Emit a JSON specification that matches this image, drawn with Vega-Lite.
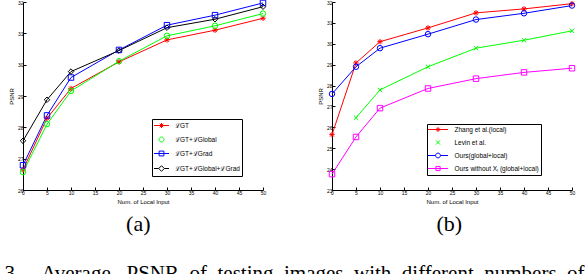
{
  "$schema": "https://vega.github.io/schema/vega-lite/v6.json",
  "padding": {"left": 4, "top": -2, "right": 0, "bottom": 0},
  "background": "white",
  "datasets": {
    "a": [
      {"input": 0, "psnr": 26.65, "series": "ℒGT"},
      {"input": 5, "psnr": 28.29, "series": "ℒGT"},
      {"input": 10, "psnr": 29.24, "series": "ℒGT"},
      {"input": 20, "psnr": 30.09, "series": "ℒGT"},
      {"input": 30, "psnr": 30.79, "series": "ℒGT"},
      {"input": 40, "psnr": 31.10, "series": "ℒGT"},
      {"input": 50, "psnr": 31.48, "series": "ℒGT"},
      {"input": 0, "psnr": 26.57, "series": "ℒGT+ℒGlobal"},
      {"input": 5, "psnr": 28.10, "series": "ℒGT+ℒGlobal"},
      {"input": 10, "psnr": 29.16, "series": "ℒGT+ℒGlobal"},
      {"input": 20, "psnr": 30.11, "series": "ℒGT+ℒGlobal"},
      {"input": 30, "psnr": 30.92, "series": "ℒGT+ℒGlobal"},
      {"input": 40, "psnr": 31.24, "series": "ℒGT+ℒGlobal"},
      {"input": 50, "psnr": 31.63, "series": "ℒGT+ℒGlobal"},
      {"input": 0, "psnr": 26.79, "series": "ℒGT+ℒGrad"},
      {"input": 5, "psnr": 28.38, "series": "ℒGT+ℒGrad"},
      {"input": 10, "psnr": 29.59, "series": "ℒGT+ℒGrad"},
      {"input": 20, "psnr": 30.47, "series": "ℒGT+ℒGrad"},
      {"input": 30, "psnr": 31.26, "series": "ℒGT+ℒGrad"},
      {"input": 40, "psnr": 31.58, "series": "ℒGT+ℒGrad"},
      {"input": 50, "psnr": 31.97, "series": "ℒGT+ℒGrad"},
      {"input": 0, "psnr": 27.57, "series": "ℒGT+ℒGlobal+ℒGrad"},
      {"input": 5, "psnr": 28.88, "series": "ℒGT+ℒGlobal+ℒGrad"},
      {"input": 10, "psnr": 29.78, "series": "ℒGT+ℒGlobal+ℒGrad"},
      {"input": 20, "psnr": 30.45, "series": "ℒGT+ℒGlobal+ℒGrad"},
      {"input": 30, "psnr": 31.18, "series": "ℒGT+ℒGlobal+ℒGrad"},
      {"input": 40, "psnr": 31.45, "series": "ℒGT+ℒGlobal+ℒGrad"},
      {"input": 50, "psnr": 31.85, "series": "ℒGT+ℒGlobal+ℒGrad"}
    ],
    "b": [
      {"input": 0, "psnr": 25.65, "series": "Zhang et al.(local)"},
      {"input": 5, "psnr": 29.08, "series": "Zhang et al.(local)"},
      {"input": 10, "psnr": 30.10, "series": "Zhang et al.(local)"},
      {"input": 20, "psnr": 30.76, "series": "Zhang et al.(local)"},
      {"input": 30, "psnr": 31.48, "series": "Zhang et al.(local)"},
      {"input": 40, "psnr": 31.67, "series": "Zhang et al.(local)"},
      {"input": 50, "psnr": 31.92, "series": "Zhang et al.(local)"},
      {"input": 5, "psnr": 26.46, "series": "Levin et al."},
      {"input": 10, "psnr": 27.79, "series": "Levin et al."},
      {"input": 20, "psnr": 28.90, "series": "Levin et al."},
      {"input": 30, "psnr": 29.79, "series": "Levin et al."},
      {"input": 40, "psnr": 30.17, "series": "Levin et al."},
      {"input": 50, "psnr": 30.62, "series": "Levin et al."},
      {"input": 0, "psnr": 27.60, "series": "Ours(global+local)"},
      {"input": 5, "psnr": 28.90, "series": "Ours(global+local)"},
      {"input": 10, "psnr": 29.79, "series": "Ours(global+local)"},
      {"input": 20, "psnr": 30.46, "series": "Ours(global+local)"},
      {"input": 30, "psnr": 31.16, "series": "Ours(global+local)"},
      {"input": 40, "psnr": 31.46, "series": "Ours(global+local)"},
      {"input": 50, "psnr": 31.83, "series": "Ours(global+local)"},
      {"input": 0, "psnr": 23.76, "series": "Ours without Xₗ (global+local)"},
      {"input": 5, "psnr": 25.54, "series": "Ours without Xₗ (global+local)"},
      {"input": 10, "psnr": 26.92, "series": "Ours without Xₗ (global+local)"},
      {"input": 20, "psnr": 27.86, "series": "Ours without Xₗ (global+local)"},
      {"input": 30, "psnr": 28.33, "series": "Ours without Xₗ (global+local)"},
      {"input": 40, "psnr": 28.63, "series": "Ours without Xₗ (global+local)"},
      {"input": 50, "psnr": 28.83, "series": "Ours without Xₗ (global+local)"}
    ]
  },
  "title": {
    "text": "3.\u00a0\u00a0\u00a0\u00a0Average\u00a0\u00a0\u00a0PSNR\u00a0\u00a0of\u00a0\u00a0testing\u00a0\u00a0images\u00a0\u00a0with\u00a0\u00a0different\u00a0\u00a0numbers\u00a0\u00a0of",
    "orient": "bottom",
    "anchor": "start",
    "frame": "bounds",
    "font": "Liberation Serif",
    "fontSize": 21,
    "fontWeight": "normal",
    "color": "black",
    "offset": 28,
    "dx": -4
  },
  "spacing": 48,
  "resolve": {"scale": {"color": "independent", "shape": "independent"}},
  "hconcat": [
    {
      "width": 240,
      "height": 188,
      "data": {"name": "a"},
      "title": {"text": "(a)", "orient": "bottom", "anchor": "middle", "frame": "bounds", "font": "Liberation Serif", "fontSize": 22, "fontWeight": "normal", "color": "black", "offset": 10},
      "encoding": {
        "x": {"field": "input", "type": "quantitative", "scale": {"domain": [0, 50], "nice": false}, "axis": {"title": "Num. of Local Input", "values": [0, 5, 10, 15, 20, 25, 30, 35, 40, 45, 50]}},
        "y": {"field": "psnr", "type": "quantitative", "scale": {"domain": [26, 32], "nice": false, "zero": false}, "axis": {"title": "PSNR", "values": [26, 27, 28, 29, 30, 31, 32], "format": "d"}}
      },
      "layer": [
        {
          "mark": {"type": "line", "strokeWidth": 1},
          "encoding": {
            "color": {"field": "series", "type": "nominal", "scale": {"domain": ["ℒGT", "ℒGT+ℒGlobal", "ℒGT+ℒGrad", "ℒGT+ℒGlobal+ℒGrad"], "range": ["#ff0000", "#00ff00", "#0000ff", "#000000"]}, "legend": null}
          }
        },
        {
          "mark": {"type": "point", "filled": false, "strokeWidth": 1, "size": 30, "opacity": 1},
          "encoding": {
            "color": {"field": "series", "type": "nominal", "scale": {"domain": ["ℒGT", "ℒGT+ℒGlobal", "ℒGT+ℒGrad", "ℒGT+ℒGlobal+ℒGrad"], "range": ["#ff0000", "#00ff00", "#0000ff", "#000000"]}, "legend": null},
            "shape": {"field": "series", "type": "nominal", "scale": {"domain": ["ℒGT", "ℒGT+ℒGlobal", "ℒGT+ℒGrad", "ℒGT+ℒGlobal+ℒGrad"], "range": ["M-1,0L1,0M0,-1L0,1M-0.7,-0.7L0.7,0.7M-0.7,0.7L0.7,-0.7", "circle", "square", "diamond"]}, "legend": null}
          }
        },
        {
          "mark": {"type": "point", "filled": false, "strokeWidth": 1, "opacity": 0},
          "encoding": {
            "color": {"field": "series", "type": "nominal", "scale": {"domain": ["ℒGT", "ℒGT+ℒGlobal", "ℒGT+ℒGrad", "ℒGT+ℒGlobal+ℒGrad"], "range": ["#ff0000", "#00ff00", "#0000ff", "#000000"]},
              "legend": {"title": null, "orient": "none", "legendX": 129, "legendY": 117, "strokeColor": "black", "fillColor": "white", "padding": 2, "symbolSize": 64, "symbolStrokeWidth": 1, "labelFont": "Liberation Sans", "labelFontSize": 6.5, "labelColor": "black", "rowPadding": 5, "labelOffset": 9, "symbolOffset": 3, "cornerRadius": 0}},
            "shape": {"field": "series", "type": "nominal", "scale": {"domain": ["ℒGT", "ℒGT+ℒGlobal", "ℒGT+ℒGrad", "ℒGT+ℒGlobal+ℒGrad"], "range": ["M-1.875,0L1.875,0M0,-0.62L0,0.62M-0.44,-0.44L0.44,0.44M-0.44,0.44L0.44,-0.44", "M0.62,0A0.62,0.62,0,1,1,-0.62,0A0.62,0.62,0,1,1,0.62,0", "M-1.875,0L1.875,0M-0.6,-0.6L0.6,-0.6L0.6,0.6L-0.6,0.6Z", "M-1.875,0L-0.7,0M0.7,0L1.875,0M-0.7,0L0,-0.7L0.7,0L0,0.7Z"]},
              "legend": {"title": null, "orient": "none", "legendX": 129, "legendY": 117, "strokeColor": "black", "fillColor": "white", "padding": 2, "symbolSize": 64, "symbolStrokeWidth": 1, "labelFont": "Liberation Sans", "labelFontSize": 6.5, "labelColor": "black", "rowPadding": 5, "labelOffset": 9, "symbolOffset": 3, "cornerRadius": 0}}
          }
        }
      ],
      "resolve": {"scale": {"color": "independent", "shape": "independent"}}
    },
    {
      "width": 240,
      "height": 188,
      "data": {"name": "b"},
      "title": {"text": "(b)", "orient": "bottom", "anchor": "middle", "frame": "bounds", "font": "Liberation Serif", "fontSize": 22, "fontWeight": "normal", "color": "black", "offset": 10},
      "encoding": {
        "x": {"field": "input", "type": "quantitative", "scale": {"domain": [0, 50], "nice": false}, "axis": {"title": "Num. of Local Input", "values": [0, 5, 10, 15, 20, 25, 30, 35, 40, 45, 50]}},
        "y": {"field": "psnr", "type": "quantitative", "scale": {"domain": [23, 32], "nice": false, "zero": false}, "axis": {"title": "PSNR", "values": [23, 24, 25, 26, 27, 28, 29, 30, 31, 32], "format": "d"}}
      },
      "layer": [
        {
          "mark": {"type": "line", "strokeWidth": 1},
          "encoding": {
            "color": {"field": "series", "type": "nominal", "scale": {"domain": ["Zhang et al.(local)", "Levin et al.", "Ours(global+local)", "Ours without Xₗ (global+local)"], "range": ["#ff0000", "#00ff00", "#0000ff", "#ff00ff"]}, "legend": null}
          }
        },
        {
          "mark": {"type": "point", "filled": false, "strokeWidth": 1, "size": 30, "opacity": 1},
          "encoding": {
            "color": {"field": "series", "type": "nominal", "scale": {"domain": ["Zhang et al.(local)", "Levin et al.", "Ours(global+local)", "Ours without Xₗ (global+local)"], "range": ["#ff0000", "#00ff00", "#0000ff", "#ff00ff"]}, "legend": null},
            "shape": {"field": "series", "type": "nominal", "scale": {"domain": ["Zhang et al.(local)", "Levin et al.", "Ours(global+local)", "Ours without Xₗ (global+local)"], "range": ["M-1,0L1,0M0,-1L0,1M-0.7,-0.7L0.7,0.7M-0.7,0.7L0.7,-0.7", "M-0.8,-0.8L0.8,0.8M-0.8,0.8L0.8,-0.8", "circle", "square"]}, "legend": null}
          }
        },
        {
          "mark": {"type": "point", "filled": false, "strokeWidth": 1, "opacity": 0},
          "encoding": {
            "color": {"field": "series", "type": "nominal", "scale": {"domain": ["Zhang et al.(local)", "Levin et al.", "Ours(global+local)", "Ours without Xₗ (global+local)"], "range": ["#ff0000", "#00ff00", "#0000ff", "#ff00ff"]},
              "legend": {"title": null, "orient": "none", "legendX": 95, "legendY": 122, "strokeColor": "black", "fillColor": "white", "padding": 2, "symbolSize": 36, "symbolStrokeWidth": 1, "labelFont": "Liberation Sans", "labelFontSize": 6.5, "labelColor": "black", "rowPadding": 4, "labelOffset": 13, "symbolOffset": 5.5, "cornerRadius": 0}},
            "shape": {"field": "series", "type": "nominal", "scale": {"domain": ["Zhang et al.(local)", "Levin et al.", "Ours(global+local)", "Ours without Xₗ (global+local)"], "range": ["M-3.33,0L3.33,0M0,-0.8L0,0.8M-0.57,-0.57L0.57,0.57M-0.57,0.57L0.57,-0.57", "M-0.7,-0.7L0.7,0.7M-0.7,0.7L0.7,-0.7", "M-3.33,0L-0.8,0M0.8,0L3.33,0M0.8,0A0.8,0.8,0,1,1,-0.8,0A0.8,0.8,0,1,1,0.8,0", "M-3.33,0L3.33,0M-0.7,-0.7L0.7,-0.7L0.7,0.7L-0.7,0.7Z"]},
              "legend": {"title": null, "orient": "none", "legendX": 95, "legendY": 122, "strokeColor": "black", "fillColor": "white", "padding": 2, "symbolSize": 36, "symbolStrokeWidth": 1, "labelFont": "Liberation Sans", "labelFontSize": 6.5, "labelColor": "black", "rowPadding": 4, "labelOffset": 13, "symbolOffset": 5.5, "cornerRadius": 0}}
          }
        }
      ],
      "resolve": {"scale": {"color": "independent", "shape": "independent"}}
    }
  ],
  "config": {
    "view": {"stroke": null},
    "axis": {
      "domainColor": "#000000", "domainWidth": 1, "tickColor": "#000000", "tickWidth": 1, "tickSize": -3,
      "labelColor": "#000000", "labelFont": "Liberation Sans", "labelFontSize": 5, "labelPadding": 3,
      "labelFlush": false, "labelOverlap": false, "grid": false,
      "titleFont": "Liberation Sans", "titleFontSize": 6, "titleFontWeight": "normal", "titleColor": "#000000", "titlePadding": 3
    }
  }
}
